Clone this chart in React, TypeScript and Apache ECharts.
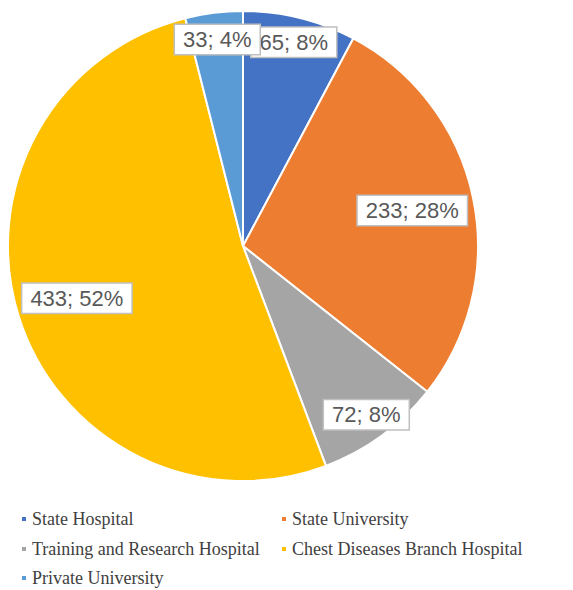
import React, { useEffect, useRef } from "react";
import * as echarts from "echarts";

const categories = [
  "State Hospital",
  "State University",
  "Training and Research Hospital",
  "Chest Diseases Branch Hospital",
  "Private University",
];
const counts = [65, 233, 72, 433, 33];
const percentLabels = [8, 28, 8, 52, 4];
const colors = ["#4472C4", "#ED7D31", "#A5A5A5", "#FFC000", "#5B9BD5"];
// radial placement of each callout, as a fraction of the radius
const labelRadiusFrac = [0.894, 0.736, 0.889, 0.741, 0.885];
// legend grid: column and row of each category
const legendCol = [0, 1, 0, 1, 0];
const legendRow = [0, 0, 1, 1, 2];

const CX = 243;
const CY = 246;
const R = 235;

export default function App() {
  const ref = useRef<HTMLDivElement>(null);
  useEffect(() => {
    if (!ref.current) return;
    const chart = echarts.init(ref.current, undefined, { renderer: "svg" });
    const legendText = {
      fontFamily: "Liberation Serif",
      fontSize: 18,
      color: "#404040",
    };
    const colLeft = [20, 280];
    const rowTop = [510, 540, 569];
    chart.setOption({
      animation: false,
      color: colors,
      legend: categories.map((name, i) => ({
        orient: "horizontal",
        left: colLeft[legendCol[i]],
        top: rowTop[legendRow[i]],
        padding: 0,
        icon: "rect",
        itemWidth: 6,
        itemHeight: 6,
        textStyle: legendText,
        selectedMode: false,
        data: [name],
      })),
      series: [
        {
          type: "pie",
          center: [CX, CY],
          radius: [0, R],
          startAngle: 90,
          clockwise: true,
          silent: true,
          itemStyle: { borderColor: "#ffffff", borderWidth: 2 },
          labelLine: { show: false },
          label: {
            show: true,
            position: "inside",
            formatter: (p: any) => `${counts[p.dataIndex]}; ${percentLabels[p.dataIndex]}%`,
            fontFamily: "Liberation Sans",
            fontSize: 22,
            color: "#595959",
            backgroundColor: "#ffffff",
            borderColor: "#BFBFBF",
            borderWidth: 1.5,
            padding: [4, 8, 3, 8],
          },
          labelLayout: (params: any) => {
            const lr = params.labelRect;
            const lx = lr.x + lr.width / 2;
            const ly = lr.y + lr.height / 2;
            const dx = lx - CX;
            const dy = ly - CY;
            const d = Math.sqrt(dx * dx + dy * dy) || 1;
            const target = labelRadiusFrac[params.dataIndex] * R;
            return { x: CX + (dx / d) * target, y: CY + (dy / d) * target };
          },
          data: categories.map((name, i) => ({ name, value: counts[i] })),
        },
      ],
    });
    return () => chart.dispose();
  }, []);
  return (
    <div
      ref={ref}
      style={{ position: "absolute", left: 0, top: 0, width: 573, height: 590 }}
    />
  );
}
